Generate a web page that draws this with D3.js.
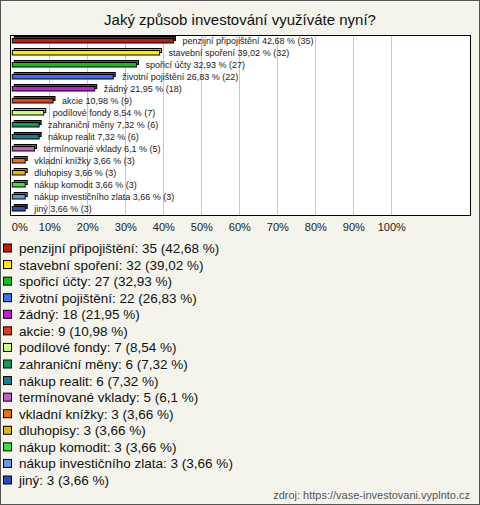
<!DOCTYPE html>
<html><head><meta charset="utf-8">
<script src="https://cdn.jsdelivr.net/npm/d3@7"></script>
<style>html,body{margin:0;padding:0;background:#f4f4ec;}svg{display:block;}</style>
</head><body>
<script>
const categories = ["penzijní připojištění","stavební spoření","spořicí účty","životní pojištění","žádný","akcie","podílové fondy","zahraniční měny","nákup realit","termínované vklady","vkladní knížky","dluhopisy","nákup komodit","nákup investičního zlata","jiný"];
const counts = [35,32,27,22,18,9,7,6,6,5,3,3,3,3,3];
const percents = [42.68,39.02,32.93,26.83,21.95,10.98,8.54,7.32,7.32,6.1,3.66,3.66,3.66,3.66,3.66];
const colors = ["#c41a0c","#ffea00","#11c011","#3f6ff0","#c21ed6","#e03c10","#cfff7a","#129a5a","#1a7d8c","#c35cc6","#e8720e","#e8b20c","#3ee03a","#6c95e6","#2a4cb8"];
const tickValues = [0,10,20,30,40,50,60,70,80,90,100];
const title = "Jaký způsob investování využíváte nyní?";
const source = "zdroj: https://vase-investovani.vyplnto.cz";

const fmt = v => String(v).replace(".", ",");
const W = 480, H = 505;
const svg = d3.select("body").append("svg").attr("width", W).attr("height", H)
  .style("font-family", "Arial, 'Liberation Sans', sans-serif");
svg.append("rect").attr("x",0.5).attr("y",0.5).attr("width",W-1).attr("height",H-1)
  .attr("fill","#f4f4ec").attr("stroke","#555");

svg.append("text").attr("x",240).attr("y",25).attr("text-anchor","middle")
  .attr("font-size",15).attr("fill","#111").text(title);

const box = {x:10, y:35, w:460, h:180};
const x = d3.scaleLinear().domain([0,100]).range([11.3,391.3]);
const y = d3.scaleBand().domain(categories).range([box.y, box.y+box.h]);

svg.append("rect").attr("x",box.x+0.5).attr("y",box.y+0.5).attr("width",box.w).attr("height",box.h)
  .attr("fill","#fff").attr("stroke","none");
svg.append("g").selectAll("line").data(tickValues.filter(t=>t>0)).join("line")
  .attr("x1",d=>Math.round(x(d))+0.5).attr("x2",d=>Math.round(x(d))+0.5)
  .attr("y1",box.y).attr("y2",box.y+box.h).attr("stroke","#c8c8c8");
svg.append("rect").attr("x",box.x+0.5).attr("y",box.y+0.5).attr("width",box.w).attr("height",box.h)
  .attr("fill","none").attr("stroke","#000");

const bars = svg.append("g").selectAll("g").data(categories).join("g");
bars.each(function(c,i){
  const g = d3.select(this);
  const cy = y(c) + y.bandwidth()/2;
  const x0 = x(0)+1, x1 = x(percents[i]);
  const col = colors[i];
  const dark = d3.color(col).darker(0.8);
  g.append("rect").attr("x",x0+2).attr("y",cy-4.5).attr("width",x1-x0).attr("height",4)
    .attr("fill",dark).attr("stroke","#000").attr("stroke-width",1);
  g.append("rect").attr("x",x0).attr("y",cy-2.5).attr("width",x1-x0).attr("height",4.5)
    .attr("fill",col).attr("stroke","#000").attr("stroke-width",1);
  g.append("text").attr("x",x1+9).attr("y",cy+3).attr("font-size",9).attr("fill","#222")
    .text(`${c} ${fmt(percents[i])} % (${counts[i]})`);
});

const axis = d3.axisBottom(x).tickValues(tickValues).tickFormat(d=>d+"%").tickSize(0).tickPadding(0);
const ax = svg.append("g").attr("transform",`translate(0,${box.y+box.h+8})`).call(axis);
ax.select(".domain").remove();
ax.selectAll("text").attr("font-size",11).attr("fill","#222").attr("dy","0.75em")
  .style("font-family","Arial, 'Liberation Sans', sans-serif");
ax.selectAll(".tick").filter(d=>d===0).select("text").attr("text-anchor","start");

const ly = d3.scaleLinear().domain([0,categories.length-1]).range([248.5,480.5]);
const leg = svg.append("g").selectAll("g").data(categories).join("g")
  .attr("transform",(d,i)=>`translate(0,${ly(i)})`);
leg.append("rect").attr("x",3.5).attr("y",-4.5).attr("width",8).attr("height",8)
  .attr("fill",(d,i)=>colors[i]).attr("stroke","#000");
leg.append("text").attr("x",19).attr("y",4.5).attr("font-size",13.5).attr("fill","#111")
  .text((d,i)=>`${d}: ${counts[i]} (${fmt(percents[i])} %)`);

svg.append("text").attr("x",470).attr("y",499).attr("text-anchor","end")
  .attr("font-size",11).attr("fill","#555").text(source);
</script>
</body></html>
